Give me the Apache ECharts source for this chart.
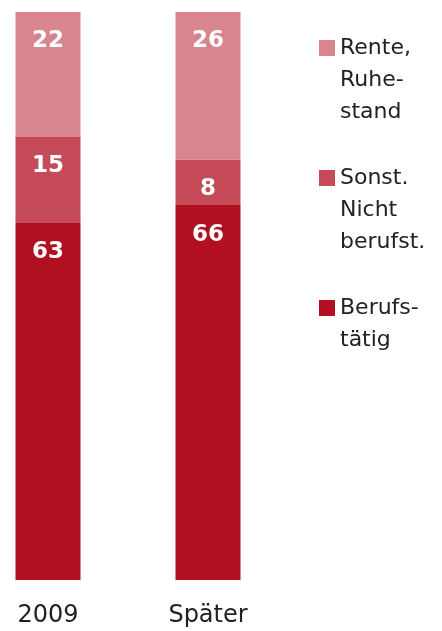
<!DOCTYPE html>
<html>
<head>
<meta charset="utf-8">
<script src="https://cdn.jsdelivr.net/npm/echarts@6/dist/echarts.min.js"></script>
<style>
  html, body { margin: 0; padding: 0; background: #fff; }
  #chart { width: 442px; height: 631px; }
</style>
</head>
<body>
<div id="chart"></div>
<script>
var categories = ['2009', 'Später'];
var berufstaetig = [63, 66];
var sonstige = [15, 8];
var rente = [22, 26];

var names = {
  rente: 'Rente,\nRuhe-\nstand',
  sonst: 'Sonst.\nNicht\nberufst.',
  beruf: 'Berufs-\ntätig'
};
var colors = { rente: '#d9858d', sonst: '#c44b57', beruf: '#b01020' };

var LH = 32;
function legendFor(name, lines, iconTop) {
  // text block is centered on the icon, so prepend empty lines to put line 1 beside it
  var boxTop = 8 - (2 * lines - 1) * LH / 2;
  var pad = new Array(lines).join('\n');
  return {
    data: [name],
    orient: 'vertical',
    left: 319,
    top: iconTop + boxTop,
    padding: 0,
    icon: 'rect',
    itemWidth: 16,
    itemHeight: 16,
    selectedMode: false,
    formatter: function (n) { return pad + n; },
    textStyle: {
      fontFamily: 'DejaVu Sans',
      fontSize: 22,
      color: '#222',
      lineHeight: LH
    }
  };
}

var labelStyle = {
  show: true,
  position: 'insideTop',
  distance: 18,
  color: '#fff',
  fontFamily: 'DejaVu Sans',
  fontWeight: 'bold',
  fontSize: 23
};

var chart = echarts.init(document.getElementById('chart'));
chart.setOption({
  animation: false,
  legend: [
    legendFor(names.rente, 3, 40),
    legendFor(names.sonst, 3, 170),
    legendFor(names.beruf, 2, 300)
  ],
  grid: { left: -32, width: 320, top: 12, bottom: 51, outerBoundsMode: 'none', containLabel: false },
  xAxis: {
    type: 'category',
    data: categories,
    axisLine: { show: false },
    axisTick: { show: false },
    axisLabel: {
      margin: 24,
      fontFamily: 'DejaVu Sans',
      fontSize: 24,
      color: '#222'
    }
  },
  yAxis: {
    type: 'value',
    min: 0,
    max: 100,
    show: false,
    splitLine: { show: false }
  },
  series: [
    {
      name: names.beruf,
      type: 'bar',
      stack: 'all',
      barWidth: 65,
      itemStyle: { color: colors.beruf },
      label: labelStyle,
      data: berufstaetig
    },
    {
      name: names.sonst,
      type: 'bar',
      stack: 'all',
      barWidth: 65,
      itemStyle: { color: colors.sonst },
      label: labelStyle,
      data: sonstige
    },
    {
      name: names.rente,
      type: 'bar',
      stack: 'all',
      barWidth: 65,
      itemStyle: { color: colors.rente },
      label: labelStyle,
      data: rente
    }
  ]
});
</script>
</body>
</html>
